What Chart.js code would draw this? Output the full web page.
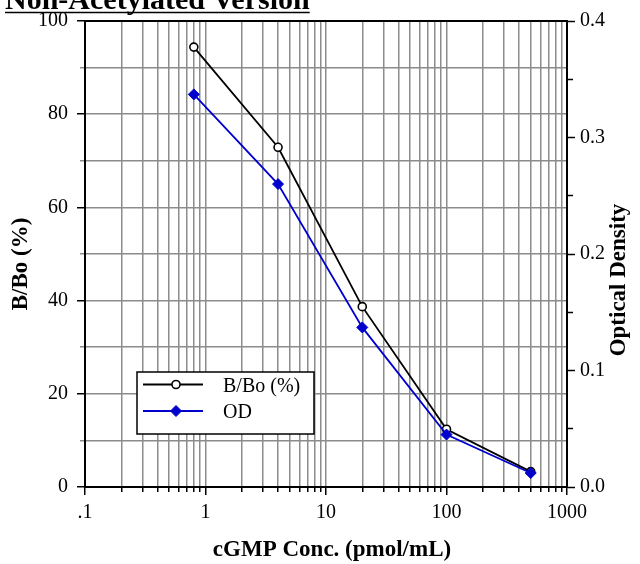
<!DOCTYPE html>
<html>
<head>
<meta charset="utf-8">
<title>cGMP standard curve</title>
<script src="https://cdn.jsdelivr.net/npm/chart.js@4.4.1/dist/chart.umd.min.js"></script>
<style>
  html, body { margin: 0; padding: 0; background: #fff; }
  #wrap { position: relative; width: 640px; height: 564px; }
</style>
</head>
<body>
<div id="wrap"><canvas id="curveChart"></canvas></div>
<script>
// Standard curve values
const concentrations = [0.8, 4, 20, 100, 500];               // cGMP, pmol/mL
const bBoPercent = [94.4, 72.9, 38.7, 12.4, 3.3];            // B/Bo (%)
const opticalDensity = [0.337, 0.260, 0.137, 0.045, 0.012];  // OD

// Labelled ticks
const xTickValues = [0.1, 1, 10, 100, 1000];
const xTickLabels = ['.1', '1', '10', '100', '1000'];
const leftTickValues = [0, 20, 40, 60, 80, 100];
const rightTickValues = [0, 0.1, 0.2, 0.3, 0.4];

const chartTitle = 'Non-Acetylated Version';
const xTitle = 'cGMP Conc. (pmol/mL)';
const leftTitle = 'B/Bo (%)';
const rightTitle = 'Optical Density';
const seriesLabels = ['B/Bo (%)', 'OD'];

const GRID = '#8c8c8c';
const SERIF = '"Liberation Serif", "Times New Roman", serif';

Chart.defaults.font.family = SERIF;
Chart.defaults.color = '#000';

const isOn = (v, list) => list.some(t => Math.abs(t - v) < 1e-9);

// Title and the three axis titles (the vertical ones both read bottom to top)
const textPlugin = {
    id: 'textPlugin',
    afterDraw(chart) {
        const { ctx, chartArea: a } = chart;
        const midY = (a.top + a.bottom) / 2;
        ctx.save();
        ctx.fillStyle = '#000';
        ctx.strokeStyle = '#000';

        ctx.font = 'bold 30px ' + SERIF;
        ctx.textAlign = 'left';
        ctx.textBaseline = 'alphabetic';
        ctx.fillText(chartTitle, 5, 9);
        const w = ctx.measureText(chartTitle).width;
        ctx.lineWidth = 1.5;
        ctx.beginPath();
        ctx.moveTo(5, 12.5);
        ctx.lineTo(5 + w, 12.5);
        ctx.stroke();

        ctx.font = 'bold 23px ' + SERIF;
        ctx.textAlign = 'center';
        ctx.textBaseline = 'middle';
        ctx.fillText(xTitle, (a.left + a.right) / 2 + 6, a.bottom + 63);

        ctx.save();
        ctx.translate(a.left - 64, midY + 10);
        ctx.rotate(-Math.PI / 2);
        ctx.fillText(leftTitle, 0, 0);
        ctx.restore();

        ctx.save();
        ctx.translate(a.right + 52, midY + 26);
        ctx.rotate(-Math.PI / 2);
        ctx.fillText(rightTitle, 0, 0);
        ctx.restore();

        ctx.restore();
    }
};

// Boxed legend inside the plot, lower left
const boxLegend = {
    id: 'boxLegend',
    afterDatasetsDraw(chart, args, opts) {
        const { ctx, chartArea: a } = chart;
        const x0 = a.left + opts.offsetX;
        const y0 = a.bottom - opts.offsetY - opts.height;
        ctx.save();
        ctx.fillStyle = '#fff';
        ctx.fillRect(x0, y0, opts.width, opts.height);
        ctx.strokeStyle = '#000';
        ctx.lineWidth = 1.5;
        ctx.strokeRect(x0, y0, opts.width, opts.height);

        chart.data.datasets.forEach((ds, i) => {
            const y = y0 + opts.rowY[i];
            ctx.strokeStyle = ds.borderColor;
            ctx.lineWidth = ds.borderWidth;
            ctx.beginPath();
            ctx.moveTo(x0 + 6, y);
            ctx.lineTo(x0 + 66, y);
            ctx.stroke();

            ctx.fillStyle = ds.pointBackgroundColor;
            ctx.strokeStyle = ds.pointBorderColor;
            ctx.lineWidth = ds.pointBorderWidth;
            Chart.helpers.drawPoint(ctx, {
                pointStyle: ds.pointStyle,
                radius: ds.pointRadius,
                borderWidth: ds.pointBorderWidth,
                rotation: 0
            }, x0 + 39, y);

            ctx.fillStyle = '#000';
            ctx.font = '20px ' + SERIF;
            ctx.textAlign = 'left';
            ctx.textBaseline = 'middle';
            ctx.fillText(ds.label, x0 + 86, y + 2);
        });
        ctx.restore();
    }
};

const ctx = document.getElementById('curveChart').getContext('2d');
const curveChart = new Chart(ctx, {
    type: 'line',
    data: {
        datasets: [
            {
                label: seriesLabels[0],
                data: concentrations.map((c, i) => ({ x: c, y: bBoPercent[i] })),
                yAxisID: 'y',
                borderColor: '#000',
                borderWidth: 1.8,
                pointStyle: 'circle',
                pointRadius: 4,
                pointBackgroundColor: '#fff',
                pointBorderColor: '#000',
                pointBorderWidth: 1.6,
                order: 2
            },
            {
                label: seriesLabels[1],
                data: concentrations.map((c, i) => ({ x: c, y: opticalDensity[i] })),
                yAxisID: 'y2',
                borderColor: '#0000cc',
                borderWidth: 1.8,
                pointStyle: 'rectRot',
                pointRadius: 5.5,
                pointBackgroundColor: '#0000cc',
                pointBorderColor: '#0000cc',
                pointBorderWidth: 1,
                order: 1
            }
        ]
    },
    options: {
        responsive: true,
        maintainAspectRatio: false,
        animation: false,
        layout: { padding: 0 },
        scales: {
            x: {
                type: 'logarithmic',
                position: 'bottom',
                min: 0.1,
                max: 1000,
                afterBuildTicks(scale) {
                    const t = [];
                    for (let d = 0; d < xTickValues.length - 1; d++) {
                        for (let m = 1; m < 10; m++) {
                            t.push({ value: xTickValues[d] * m, major: m === 1 });
                        }
                    }
                    t.push({ value: xTickValues[xTickValues.length - 1], major: true });
                    scale.ticks = t;
                },
                afterFit(scale) { scale.height = 77; },
                ticks: {
                    autoSkip: false,
                    maxRotation: 0,
                    padding: 6,
                    font: { size: 20 },
                    callback(value) {
                        const k = xTickValues.findIndex(t => Math.abs(t - value) < 1e-9);
                        return k >= 0 ? xTickLabels[k] : '';
                    }
                },
                grid: {
                    color: GRID,
                    lineWidth: 1.5,
                    tickLength: 8,
                    tickWidth: 1.5,
                    tickColor: '#000',
                    tickBorderDash: c => (c.tick && c.tick.major) ? [] : [4, 20]
                },
                border: { color: '#000', width: 2 }
            },
            xTop: {
                type: 'linear',
                position: 'top',
                min: 0,
                max: 1,
                afterFit(scale) { scale.height = 19; },
                ticks: { display: false },
                grid: { display: false },
                border: { color: '#000', width: 2 }
            },
            y: {
                type: 'linear',
                position: 'left',
                min: 0,
                max: 100,
                afterFit(scale) { scale.width = 85; },
                ticks: {
                    stepSize: 10,
                    autoSkip: false,
                    padding: 9,
                    font: { size: 20 },
                    callback: v => isOn(v, leftTickValues) ? String(v) : ''
                },
                grid: {
                    color: GRID,
                    lineWidth: 1.5,
                    tickLength: 8,
                    tickWidth: 1.5,
                    tickColor: c => isOn(c.tick.value, leftTickValues) ? '#000' : GRID,
                    tickBorderDash: c => isOn(c.tick.value, leftTickValues) ? [] : [5, 20],
                    tickBorderDashOffset: c => isOn(c.tick.value, leftTickValues) ? 0 : 22
                },
                border: { color: '#000', width: 2 }
            },
            y2: {
                type: 'linear',
                position: 'right',
                min: 0,
                max: 0.4,
                afterFit(scale) { scale.width = 73; },
                ticks: {
                    stepSize: 0.05,
                    autoSkip: false,
                    padding: 5,
                    font: { size: 20 },
                    callback: v => isOn(v, rightTickValues) ? v.toFixed(1) : ''
                },
                grid: {
                    drawOnChartArea: false,
                    tickLength: 8,
                    tickWidth: 1.5,
                    tickColor: '#000',
                    tickBorderDash: c => isOn(c.tick.value, rightTickValues) ? [] : [5, 20]
                },
                border: { color: '#000', width: 2 }
            }
        },
        plugins: {
            legend: { display: false },
            tooltip: { enabled: false },
            boxLegend: {
                offsetX: 52,
                offsetY: 53,
                width: 177,
                height: 62,
                rowY: [12.5, 39]
            }
        }
    },
    plugins: [boxLegend, textPlugin]
});
</script>
</body>
</html>
